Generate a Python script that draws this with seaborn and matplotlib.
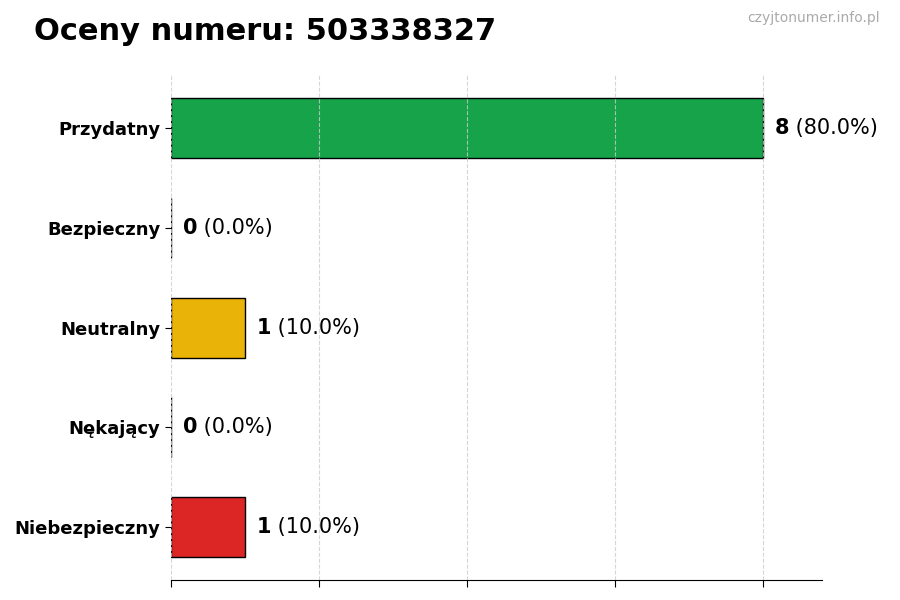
import matplotlib
matplotlib.use("Agg")
import matplotlib.pyplot as plt
import seaborn as sns
import pandas as pd

categories = ["Przydatny", "Bezpieczny", "Neutralny", "Nękający", "Niebezpieczny"]
counts = [8, 0, 1, 0, 1]
colors = ["#16a34a", "#2563eb", "#eab308", "#f97316", "#dc2626"]
title = "Oceny numeru: 503338327"
watermark = "czyjtonumer.info.pl"

total = sum(counts)
df = pd.DataFrame({"cat": categories, "count": counts})

sns.set_style("white")
plt.rcParams['font.family'] = ['DejaVu Sans']
plt.rcParams['text.color'] = 'black'
plt.rcParams['xtick.color'] = 'black'
plt.rcParams['ytick.color'] = 'black'
plt.rcParams['axes.labelcolor'] = 'black'

fig = plt.figure(figsize=(9, 6), dpi=100)
ax = fig.add_axes([0.19, 0.033, 0.723, 0.842])

sns.barplot(data=df, y="cat", x="count", hue="cat", palette=colors, orient="h",
            width=0.6, edgecolor="black", linewidth=1, legend=False, ax=ax, saturation=1)

ax.set_xlim(0, 8.8)
ax.set_ylim(4.53, -0.53)
ax.set_xticks([0, 2, 4, 6, 8])
ax.set_xticklabels([])
ax.set_xlabel("")
ax.set_ylabel("")
ax.tick_params(axis="y", labelsize=13, length=4, left=True, color="black", labelcolor="black")
ax.tick_params(axis="x", length=5, bottom=True, color="black")
for lbl in ax.get_yticklabels():
    lbl.set_fontweight("bold")
ax.grid(axis="x", linestyle="--", color="#cccccc", linewidth=0.8, alpha=0.8)
ax.grid(axis="y", visible=False)
ax.set_axisbelow(False)
for s in ["top", "right", "left"]:
    ax.spines[s].set_visible(False)
ax.spines["bottom"].set_color("black")

for i, c in enumerate(counts):
    pct = 100.0 * c / total
    t = ax.text(c + 0.16, i, str(c), fontsize=15, fontweight="bold", va="center", ha="left",
                color="black")
    ax.annotate(f" ({pct:.1f}%)", xy=(1, 0.5), xycoords=t, fontsize=15,
                va="center", ha="left", color="black")

fig.text(0.038, 0.948, title, fontsize=22, fontweight="bold", va="center", ha="left",
         color="black")
fig.text(0.978, 0.97, watermark, fontsize=10, color="#aaaaaa", va="center", ha="right")

fig.savefig("out.png", dpi=100)
